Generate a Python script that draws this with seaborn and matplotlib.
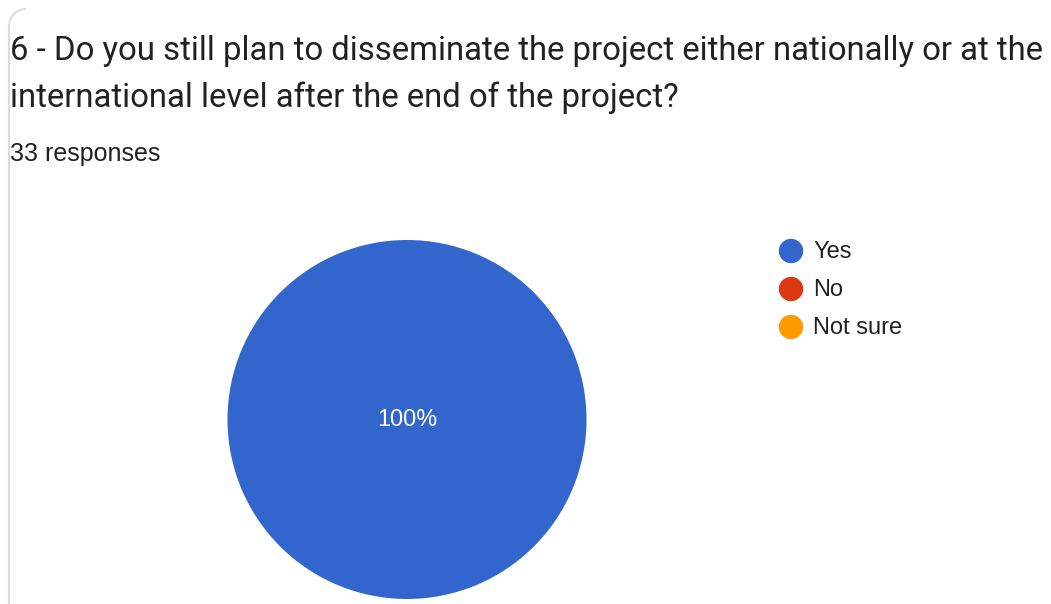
import numpy as np
import matplotlib
matplotlib.use("Agg")
import matplotlib.pyplot as plt
import seaborn as sns
from matplotlib.patches import Circle, Arc
from matplotlib.lines import Line2D
from matplotlib.transforms import Affine2D

sns.set_style("white")
plt.rcParams['font.family'] = ['Roboto', 'DejaVu Sans']

# ---- data ----
title_lines = ["6 - Do you still plan to disseminate the project either nationally or at the",
               "international level after the end of the project?"]
subtitle = "33 responses"
categories = ["Yes", "No", "Not sure"]
values = [100, 0, 0]
colors = sns.color_palette(["#3366CC", "#DC3912", "#FF9900"])

W, H = 1051, 604
fig = plt.figure(figsize=(W / 100, H / 100), dpi=100)
fig.patch.set_facecolor("white")

def px(x, y):
    return x / W, 1 - y / H

text_color = "#202124"
arial = ['Liberation Sans', 'DejaVu Sans']
# title
fig.text(*px(10, 60), title_lines[0], fontsize=23.7, color=text_color, va="baseline", ha="left")
fig.text(*px(10, 107), title_lines[1], fontsize=23.7, color=text_color, va="baseline", ha="left")
fig.text(*px(10, 161), subtitle, fontsize=18, color=text_color, va="baseline", ha="left", family=arial)

# card border on the left
pix = Affine2D().scale(1, -1).translate(0, H)  # pixel coords from top
border_color = "#dadce0"
fig.add_artist(Line2D([9, 9], [26, 604], color=border_color, lw=1.5, transform=pix))
fig.add_artist(Arc((26, 26), 34, 34, theta1=180, theta2=270, color=border_color, lw=1.5, transform=pix))

# pie
cx, cy, r = 407, 419.5, 179.5
ax = fig.add_axes([(cx - r) / W, (H - cy - r) / H, 2 * r / W, 2 * r / H])
def fmt(p):
    return f"{p:.0f}%" if p > 0.5 else ""
wedges, texts, autotexts = ax.pie(values, colors=colors, startangle=90, counterclock=False,
                                  radius=1, autopct=fmt, pctdistance=0.0,
                                  wedgeprops=dict(linewidth=0),
                                  textprops=dict(color="white", fontsize=16.8, family=arial))
ax.set_xlim(-1, 1)
ax.set_ylim(-1, 1)
ax.set_aspect("equal")
ax.axis("off")

# legend
leg_x, leg_y0, leg_dy = 791, 251, 38
for i, (lab, col) in enumerate(zip(categories, colors)):
    y = leg_y0 + i * leg_dy
    fig.add_artist(Circle((leg_x, y), 11.5, color=col, transform=pix))
    fig.text(*px(813, y - 1), lab, fontsize=17, color=text_color, va="center_baseline", ha="left",
             family=arial)

fig.savefig("out.png", dpi=100, facecolor="white")
